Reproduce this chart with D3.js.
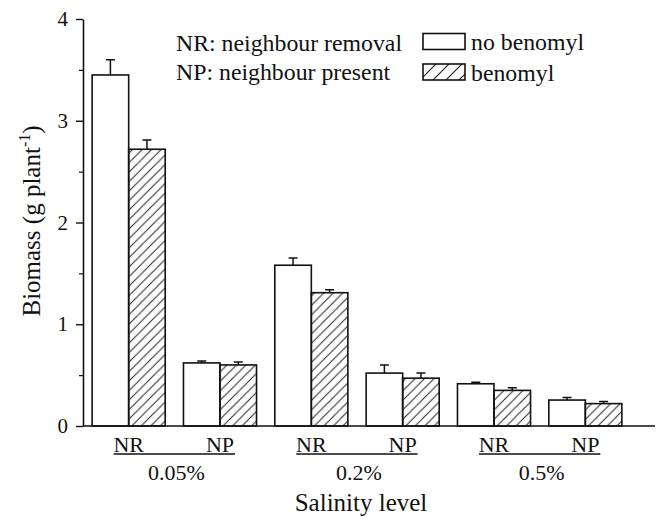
<!DOCTYPE html>
<html>
  <head>
    <script src="https://d3js.org/d3.v7.min.js"></script>
    <style>
      body { margin: 0; background: #fff; }
      text { font-family: "Liberation Serif", "DejaVu Serif", serif; fill: #111; }
    </style>
  </head>
  <body>
    <script>
      // data
      var salinity = ["0.05%", "0.2%", "0.5%"];
      var neighbour = ["NR", "NP"];
      var treatments = ["no benomyl", "benomyl"];
      var noBenomyl    = [3.45, 0.62, 1.58, 0.52, 0.415, 0.255];
      var noBenomylErr = [0.15, 0.02, 0.07, 0.08, 0.015, 0.025];
      var benomyl      = [2.72, 0.60, 1.31, 0.47, 0.35, 0.22];
      var benomylErr   = [0.09, 0.03, 0.03, 0.05, 0.025, 0.02];
      var yTicks = [0, 1, 2, 3, 4];
      var yMinor = [0.5, 1.5, 2.5, 3.5];
      var legendNotes = ["NR: neighbour removal", "NP: neighbour present"];

      var width = 658, height = 517;
      var plotLeft = 83, plotRight = 631, axisEnd = 655, plotTop = 19, plotBottom = 426;

      var svg = d3.select("body").append("svg")
          .attr("width", width)
          .attr("height", height);

      var defs = svg.append("defs");
      defs.append("pattern")
          .attr("id", "hatch")
          .attr("patternUnits", "userSpaceOnUse")
          .attr("width", 9.5).attr("height", 9.5)
        .append("path")
          .attr("d", "M-1,1 l2,-2 M0,9.5 l9.5,-9.5 M8.5,10.5 l2,-2")
          .attr("stroke", "#222").attr("stroke-width", 1);
      defs.append("pattern")
          .attr("id", "hatchLegend")
          .attr("patternUnits", "userSpaceOnUse")
          .attr("width", 13).attr("height", 13)
        .append("path")
          .attr("d", "M-1,1 l2,-2 M0,13 l13,-13 M12,14 l2,-2")
          .attr("stroke", "#222").attr("stroke-width", 1.2);

      // one slot per salinity x neighbour combination
      var slots = [];
      salinity.forEach(function(s) {
        neighbour.forEach(function(n) { slots.push(s + "|" + n); });
      });
      var rows = slots.map(function(k, i) {
        return {
          key: k, sal: k.split("|")[0], nb: k.split("|")[1],
          vals: [
            {t: treatments[0], v: noBenomyl[i], e: noBenomylErr[i]},
            {t: treatments[1], v: benomyl[i], e: benomylErr[i]}
          ]
        };
      });

      var x0 = d3.scaleBand().domain(slots).range([plotLeft, plotRight])
          .paddingInner(0.2).paddingOuter(0.1);
      var x1 = d3.scaleBand().domain(treatments).range([0, x0.bandwidth()]);
      var y = d3.scaleLinear().domain([0, 4]).range([plotBottom, plotTop]);

      /* bars */
      var g = svg.selectAll(".slot").data(rows).enter().append("g")
          .attr("transform", function(d) { return "translate(" + x0(d.key) + ",0)"; });

      g.selectAll("rect").data(function(d) { return d.vals; }).enter().append("rect")
          .attr("x", function(d) { return x1(d.t); })
          .attr("y", function(d) { return y(d.v); })
          .attr("width", x1.bandwidth())
          .attr("height", function(d) { return y(0) - y(d.v); })
          .attr("fill", function(d) { return d.t === "benomyl" ? "url(#hatch)" : "#fff"; })
          .attr("stroke", "#111").attr("stroke-width", 1.6);

      /* error bars, upper half only */
      var cap = 4.5;
      g.selectAll(".err").data(function(d) { return d.vals; }).enter().append("path")
          .attr("d", function(d) {
            var cx = x1(d.t) + x1.bandwidth() / 2;
            return "M" + cx + "," + y(d.v) + "V" + y(d.v + d.e) +
                   "M" + (cx - cap) + "," + y(d.v + d.e) + "H" + (cx + cap);
          })
          .attr("fill", "none").attr("stroke", "#111").attr("stroke-width", 1.5);

      /* y axis */
      var yAxis = svg.append("g")
          .attr("transform", "translate(" + plotLeft + ",0)")
          .call(d3.axisLeft(y).tickValues(yTicks).tickSize(7).tickSizeOuter(0)
                .tickFormat(d3.format("d")).tickPadding(8));
      yAxis.select(".domain").attr("stroke", "#111").attr("stroke-width", 1.6);
      yAxis.selectAll(".tick line").attr("stroke", "#111").attr("stroke-width", 1.4);
      yAxis.selectAll(".tick text")
          .style("font-family", "Liberation Serif").style("font-size", "21px").attr("fill", "#111");

      var yMin = svg.append("g")
          .attr("transform", "translate(" + plotLeft + ",0)")
          .call(d3.axisLeft(y).tickValues(yMinor).tickSize(4).tickFormat(""));
      yMin.select(".domain").remove();
      yMin.selectAll(".tick line").attr("stroke", "#111").attr("stroke-width", 1.2);

      /* x axis line */
      svg.append("line")
          .attr("x1", plotLeft).attr("x2", axisEnd)
          .attr("y1", y(0)).attr("y2", y(0))
          .attr("stroke", "#111").attr("stroke-width", 1.6);

      /* category labels */
      svg.selectAll(".nb").data(rows).enter().append("text")
          .attr("x", function(d) { return x0(d.key) + x0.bandwidth() / 2; })
          .attr("y", 451.5)
          .attr("text-anchor", "middle")
          .style("font-size", "22px")
          .text(function(d) { return d.nb; });

      salinity.forEach(function(s) {
        var a = x0(s + "|NR") + x0.bandwidth() / 2,
            b = x0(s + "|NP") + x0.bandwidth() / 2;
        svg.append("line")
            .attr("x1", a - 15).attr("x2", b + 15)
            .attr("y1", 454).attr("y2", 454)
            .attr("stroke", "#111").attr("stroke-width", 1.5);
        svg.append("text")
            .attr("x", (a + b) / 2 + 2).attr("y", 480)
            .attr("text-anchor", "middle")
            .style("font-size", "22px")
            .text(s);
      });

      /* axis titles */
      svg.append("text")
          .attr("x", 361).attr("y", 511)
          .attr("text-anchor", "middle")
          .style("font-size", "25px")
          .text("Salinity level");

      var yt = svg.append("text")
          .attr("transform", "translate(40,221) rotate(-90)")
          .attr("text-anchor", "middle")
          .style("font-size", "25px");
      yt.append("tspan").text("Biomass (g plant");
      yt.append("tspan").attr("dy", -10).style("font-size", "16px").text("-1");
      yt.append("tspan").attr("dy", 10).text(")");

      /* legend */
      svg.selectAll(".note").data(legendNotes).enter().append("text")
          .attr("x", 176)
          .attr("y", function(d, i) { return 50.5 + i * 29.5; })
          .style("font-size", "23.8px")
          .text(function(d) { return d; });

      var lg = svg.selectAll(".leg").data(treatments).enter().append("g")
          .attr("transform", function(d, i) { return "translate(423," + (33.5 + i * 30.5) + ")"; });
      lg.append("rect")
          .attr("width", 42).attr("height", 16)
          .attr("fill", function(d) { return d === "benomyl" ? "url(#hatchLegend)" : "#fff"; })
          .attr("stroke", "#111").attr("stroke-width", 1.6);
      lg.append("text")
          .attr("x", 48).attr("y", 16.5)
          .style("font-size", "23.8px")
          .text(function(d) { return d; });
    </script>
  </body>
</html>
